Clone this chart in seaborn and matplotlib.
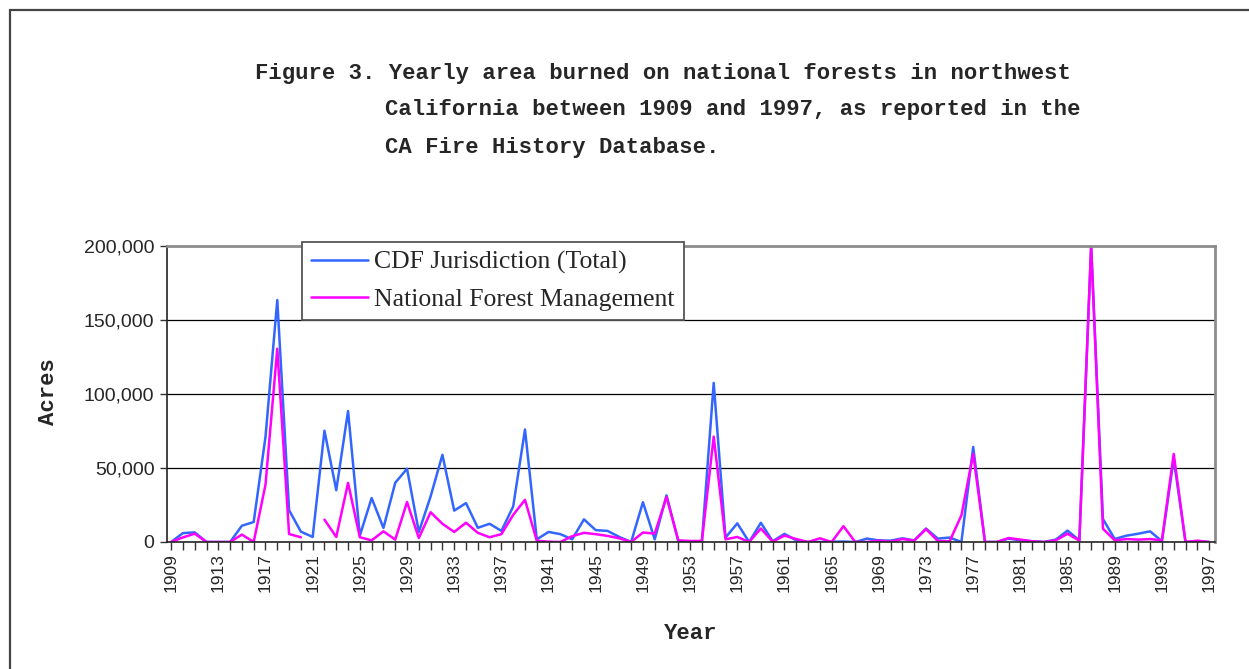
import numpy as np
import pandas as pd
import matplotlib
matplotlib.use('Agg')
import matplotlib.pyplot as plt
import matplotlib.ticker as mticker
from matplotlib.patches import Rectangle
import seaborn as sns

years = list(range(1909, 1998))

cdf_total = [
    0, 6000, 6500, 0, 0, 0, 11000, 13500, 71000, 163500,      # 1909-1918
    21500, 7000, 3400, 75200, 35000, 88500, 4300, 29700, 9500, 40000,  # 1919-1928
    49500, 6800, 30800, 58900, 21200, 26300, 9600, 12300, 7500, 24000,  # 1929-1938
    76000, 1800, 6800, 5300, 1800, 15300, 8000, 7500, 3400, 0,  # 1939-1948
    26900, 1800, 31500, 500, 500, 500, 107500, 3000, 12600, 0,  # 1949-1958
    13000, 500, 5500, 1100, 0, 0, 200, 300, 0, 2300,  # 1959-1968
    1100, 900, 2500, 1100, 9100, 2300, 3000, 0, 64200, 0,  # 1969-1978
    0, 2300, 1100, 500, 0, 1600, 7700, 1100, 200000, 15500,  # 1979-1988
    2000, 4300, 5600, 7200, 500, 56000, 0, 500, 0,  # 1989-1997
]

nf_management = [
    0, 3100, 5600, 0, 0, 0, 5000, 0, 38700, 130600,
    5400, 3200, np.nan, 15100, 3400, 39900, 3200, 1100, 7200, 1600,
    27000, 2700, 20100, 12300, 6800, 13000, 6200, 3200, 5300, 18300,
    28500, 900, 200, 0, 3900, 6200, 5300, 4100, 2500, 0,
    6400, 5700, 30400, 1100, 700, 700, 71200, 1800, 3400, 0,
    9100, 200, 4300, 2000, 0, 2500, 0, 10700, 0, 0,
    900, 200, 2000, 900, 8700, 700, 500, 18000, 59500, 0,
    0, 2700, 1600, 500, 0, 1100, 5600, 900, 200000, 9000,
    1100, 2000, 1600, 2000, 1100, 59500, 0, 900, 0,
]

series_names = ['CDF Jurisdiction (Total)', 'National Forest Management']
series_colors = ['#3366FF', '#FF00FF']

# long-form table; a segment id keeps the gap where a value is missing
rows = []
for name, vals in zip(series_names, [cdf_total, nf_management]):
    seg = 0
    for y, v in zip(years, vals):
        if pd.isna(v):
            seg += 1
            continue
        rows.append({'Year': y, 'Acres': v, 'series': name, 'seg': f'{name}_{seg}'})
df = pd.DataFrame(rows)

sns.set_style('white')
plt.rcParams['font.family'] = ['Liberation Sans', 'DejaVu Sans']

fig = plt.figure(figsize=(12.49, 6.69), dpi=100)
ax = fig.add_axes([167 / 1249, 1 - 542 / 669, (1215 - 167) / 1249, (542 - 246) / 669])

sns.lineplot(data=df, x='Year', y='Acres', hue='series', units='seg', estimator=None,
             palette=dict(zip(series_names, series_colors)), hue_order=series_names,
             linewidth=1.8, ax=ax)

ax.set_xlim(1908.65, 1997.5)
ax.set_ylim(0, 200000)
ax.yaxis.set_major_locator(mticker.MultipleLocator(50000))
ax.yaxis.set_major_formatter(mticker.FuncFormatter(lambda v, p: f'{int(v):,}'))
ax.set_xticks(list(range(1909, 1998, 4)))
ax.set_xticks(years, minor=True)
ax.tick_params(axis='x', which='both', direction='out', length=6, width=1, color='#333333',
               bottom=True, labelsize=12.5, labelrotation=90, pad=2)
ax.tick_params(axis='y', direction='out', length=5, width=1, color='#333333', left=True,
               labelsize=14, pad=4)

for v in [50000, 100000, 150000]:
    ax.axhline(v, color='black', lw=0.9, zorder=0)

ax.spines['left'].set_color('#222222')
ax.spines['left'].set_linewidth(1.2)
ax.spines['bottom'].set_color('#222222')
ax.spines['bottom'].set_linewidth(1.2)
for s in ['top', 'right']:
    ax.spines[s].set_color('#8c8c8c')
    ax.spines[s].set_linewidth(2)

ax.set_xlabel('Year', family='Liberation Mono', weight='bold', fontsize=16, labelpad=22)
ax.set_ylabel('')
fig.text(48 / 1249, 1 - 392 / 669, 'Acres', rotation=90, family='Liberation Mono',
         weight='bold', fontsize=16, ha='center', va='center')

handles, labels = ax.get_legend_handles_labels()
leg = ax.legend(handles, labels, loc='upper left', bbox_to_anchor=(0.129, 1.014),
                frameon=True, fancybox=False, framealpha=1, edgecolor='#555555',
                prop={'family': 'Liberation Serif', 'size': 18.5}, handlelength=2.2,
                borderpad=0.35, labelspacing=0.55, handletextpad=0.25, borderaxespad=0)
leg.get_frame().set_linewidth(1.3)

title_font = dict(family='Liberation Mono', weight='bold', fontsize=16, ha='left', va='center')
fig.text(255 / 1249, 1 - 73 / 669, 'Figure 3. Yearly area burned on national forests in northwest', **title_font)
fig.text(385 / 1249, 1 - 110 / 669, 'California between 1909 and 1997, as reported in the', **title_font)
fig.text(385 / 1249, 1 - 148 / 669, 'CA Fire History Database.', **title_font)

# outer frame of the chart area
fig.patches.append(Rectangle((10 / 1249, -0.1), 1.2, 1.1 - 10 / 669, transform=fig.transFigure,
                             fill=False, edgecolor='#444444', lw=1.6))

fig.savefig('out.png', dpi=100)
